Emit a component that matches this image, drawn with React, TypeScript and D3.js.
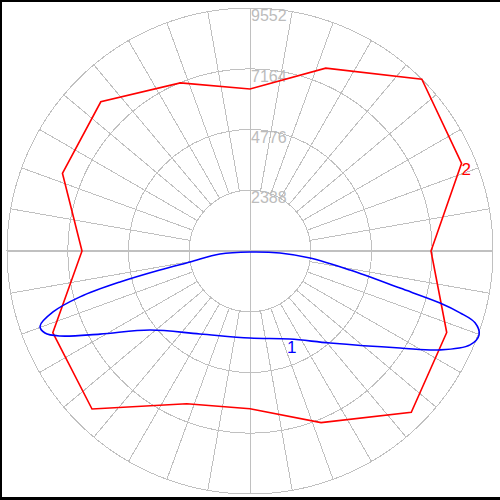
import React from "react";
import * as d3 from "d3";

const ringValues = [2388, 4776, 7164, 9552];
const ringLabels = ["2388", "4776", "7164", "9552"];
const maxValue = 9552;

// Series 2 (red) — angle in degrees (CCW from east) and value
const redAngles = [0, 22.5, 45, 67.5, 90, 112.5, 135, 157.5, 180, 202.5, 225, 247.5, 270, 292.5, 315, 337.5];
const redValues = [7115, 9002, 9552, 7780, 6368, 7154, 8294, 7980, 6604, 8390, 8783, 6500, 6200, 7300, 8966, 8370];

// Series 1 (blue)
const blueAngles = [199.7, 197.2, 195.1, 193.4, 191.9, 190.4, 185.7, 270, 356.2, 353.3, 349.2, 346.1, 344.7, 343.6, 342.3, 339.9, 336.9, 332.5, 327.1, 311, 294.4, 270, 238.9, 218.3, 209, 204.1, 201.8];
const blueValues = [8766, 8106, 6923, 5253, 3616, 2398, 1185, 39, 1182, 2375, 4002, 6074, 7744, 8608, 9286, 9589, 9404, 8422, 7022, 4793, 3800, 3420, 3809, 5009, 6739, 8183, 8680];

const seriesNames = ["1", "2"];

export default function App() {
  const W = 500, H = 500;
  const cx = 250, cy = 251, R = 243;
  const r = d3.scaleLinear().domain([0, maxValue]).range([0, R]);
  const toRad = (deg: number) => ((90 - deg) * Math.PI) / 180;
  const pt = (deg: number, v: number): [number, number] => {
    const a = (deg * Math.PI) / 180;
    return [cx + r(v) * Math.cos(a), cy - r(v) * Math.sin(a)];
  };

  const redPath = d3
    .lineRadial<[number, number]>()
    .angle((d) => toRad(d[0]))
    .radius((d) => r(d[1]))
    .curve(d3.curveLinearClosed)(redAngles.map((a, i) => [a, redValues[i]]));
  const bluePath = d3
    .lineRadial<[number, number]>()
    .angle((d) => toRad(d[0]))
    .radius((d) => r(d[1]))
    .curve(d3.curveCatmullRomClosed.alpha(0.5))(blueAngles.map((a, i) => [a, blueValues[i]]));

  const spokes = d3.range(0, 360, 10);
  const grid = "#c0c0c0";

  const lbl2 = pt(redAngles[1], redValues[1]);
  const lbl1 = pt(blueAngles[20], blueValues[20]);

  return (
    <svg
      width={W}
      height={H}
      style={{ position: "fixed", left: 0, top: 0, background: "#fff" }}
      fontFamily="'Liberation Sans', Arial, sans-serif"
    >
      <rect x={0} y={0} width={W} height={H} fill="#fff" />
      <g shapeRendering="crispEdges">
        {spokes.map((s) => {
          const [x1, y1] = pt(s, ringValues[0]);
          const [x2, y2] = pt(s, maxValue);
          return <line key={s} x1={x1} y1={y1} x2={x2} y2={y2} stroke={grid} strokeWidth={1} />;
        })}
        {ringValues.map((v) => (
          <circle key={v} cx={cx} cy={cy} r={r(v)} fill="none" stroke={grid} strokeWidth={1} />
        ))}
        <line x1={cx - R} y1={cy} x2={cx + R} y2={cy} stroke={grid} strokeWidth={2} />
        <line x1={cx} y1={cy - R} x2={cx} y2={cy + R} stroke={grid} strokeWidth={1} />
      </g>
      {ringValues.map((v, i) => (
        <text
          key={v}
          x={cx + 1}
          y={cy - r(v) + 2}
          dominantBaseline="hanging"
          fontSize={16}
          fill="#bcbcbc"
        >
          {ringLabels[i]}
        </text>
      ))}
      <g transform={`translate(${cx},${cy})`}>
        <path d={redPath || ""} fill="none" stroke="#ff0000" strokeWidth={1.6} />
        <path d={bluePath || ""} fill="none" stroke="#0000ff" strokeWidth={1.6} />
      </g>
      <text x={lbl2[0]} y={lbl2[1]} dominantBaseline="hanging" fontSize={17} fill="#ff0000">
        {seriesNames[1]}
      </text>
      <text x={lbl1[0] - 3} y={lbl1[1] + 2} dominantBaseline="hanging" fontSize={17} fill="#0000ff">
        {seriesNames[0]}
      </text>
      <rect x={0} y={0} width={2} height={H} fill="#000" />
      <rect x={0} y={0} width={W} height={2} fill="#000" />
      <rect x={0} y={497} width={W} height={3} fill="#000" />
    </svg>
  );
}
